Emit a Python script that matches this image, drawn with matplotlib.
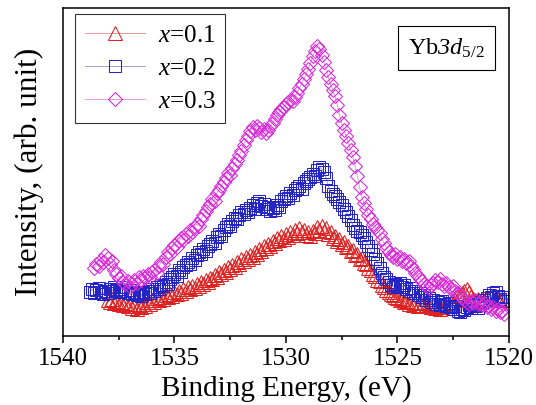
import matplotlib
matplotlib.use('Agg')
import matplotlib.pyplot as plt
from matplotlib.ticker import MultipleLocator

plt.rcParams['font.family'] = ['Liberation Serif', 'DejaVu Serif']
# digits and letters inside $...$ come out italic, \mathsf gives upright serif
plt.rcParams['mathtext.fontset'] = 'custom'
plt.rcParams['mathtext.rm'] = 'Liberation Serif:italic'
plt.rcParams['mathtext.it'] = 'Liberation Serif:italic'
plt.rcParams['mathtext.sf'] = 'Liberation Serif'

# binding energy grid (eV), 0.1 eV steps
energy = [1538.8, 1538.7, 1538.6, 1538.5, 1538.4, 1538.3, 1538.2, 1538.1, 1538.0, 1537.9,
          1537.8, 1537.7, 1537.6, 1537.5, 1537.4, 1537.3, 1537.2, 1537.1, 1537.0, 1536.9,
          1536.8, 1536.7, 1536.6, 1536.5, 1536.4, 1536.3, 1536.2, 1536.1, 1536.0, 1535.9,
          1535.8, 1535.7, 1535.6, 1535.5, 1535.4, 1535.3, 1535.2, 1535.1, 1535.0, 1534.9,
          1534.8, 1534.7, 1534.6, 1534.5, 1534.4, 1534.3, 1534.2, 1534.1, 1534.0, 1533.9,
          1533.8, 1533.7, 1533.6, 1533.5, 1533.4, 1533.3, 1533.2, 1533.1, 1533.0, 1532.9,
          1532.8, 1532.7, 1532.6, 1532.5, 1532.4, 1532.3, 1532.2, 1532.1, 1532.0, 1531.9,
          1531.8, 1531.7, 1531.6, 1531.5, 1531.4, 1531.3, 1531.2, 1531.1, 1531.0, 1530.9,
          1530.8, 1530.7, 1530.6, 1530.5, 1530.4, 1530.3, 1530.2, 1530.1, 1530.0, 1529.9,
          1529.8, 1529.7, 1529.6, 1529.5, 1529.4, 1529.3, 1529.2, 1529.1, 1529.0, 1528.9,
          1528.8, 1528.7, 1528.6, 1528.5, 1528.4, 1528.3, 1528.2, 1528.1, 1528.0, 1527.9,
          1527.8, 1527.7, 1527.6, 1527.5, 1527.4, 1527.3, 1527.2, 1527.1, 1527.0, 1526.9,
          1526.8, 1526.7, 1526.6, 1526.5, 1526.4, 1526.3, 1526.2, 1526.1, 1526.0, 1525.9,
          1525.8, 1525.7, 1525.6, 1525.5, 1525.4, 1525.3, 1525.2, 1525.1, 1525.0, 1524.9,
          1524.8, 1524.7, 1524.6, 1524.5, 1524.4, 1524.3, 1524.2, 1524.1, 1524.0, 1523.9,
          1523.8, 1523.7, 1523.6, 1523.5, 1523.4, 1523.3, 1523.2, 1523.1, 1523.0, 1522.9,
          1522.8, 1522.7, 1522.6, 1522.5, 1522.4, 1522.3, 1522.2, 1522.1, 1522.0, 1521.9,
          1521.8, 1521.7, 1521.6, 1521.5, 1521.4, 1521.3, 1521.2, 1521.1, 1521.0, 1520.9,
          1520.8, 1520.7, 1520.6, 1520.5, 1520.4, 1520.3, 1520.2]

# x = 0.1, scan starts at 1538.0 eV
int_01 = [36, 34, 37, 33, 35, 32, 34, 31, 33, 30,
          32, 28, 30, 27, 31, 29, 32, 30, 34, 32,
          36, 34, 38, 36, 39, 37, 41, 39, 42, 40,
          44, 42, 45, 43, 47, 45, 49, 47, 50, 48,
          52, 50, 54, 52, 56, 54, 58, 57, 61, 59,
          64, 62, 66, 64, 69, 67, 71, 69, 74, 72,
          77, 75, 79, 77, 81, 79, 84, 82, 87, 85,
          90, 88, 92, 90, 95, 93, 98, 96, 100, 97,
          102, 99, 104, 101, 106, 103, 108, 104, 106, 101,
          104, 100, 105, 103, 109, 106, 110, 105, 108, 102,
          104, 98, 100, 95, 97, 92, 94, 89, 90, 85,
          86, 81, 82, 77, 78, 73, 72, 68, 66, 62,
          60, 56, 55, 51, 49, 46, 44, 42, 41, 39,
          38, 36, 37, 34, 35, 32, 34, 31, 33, 30,
          33, 31, 34, 30, 32, 29, 31, 28, 30, 27,
          29, 31, 33, 32, 34, 33, 36, 38, 41, 43,
          45, 47, 44, 40, 37, 35, 37, 34, 36, 35,
          38, 36, 39, 37, 40, 38, 36, 37, 36]

# x = 0.2, scan starts at 1538.8 eV
int_02 = [44, 47, 43, 46, 48, 44, 42, 45, 43, 47,
          45, 49, 46, 44, 47, 49, 45, 43, 46, 42,
          44, 41, 43, 40, 44, 42, 45, 43, 47, 45,
          49, 47, 51, 50, 54, 52, 57, 59, 62, 60,
          66, 64, 69, 71, 74, 72, 78, 76, 81, 84,
          82, 87, 85, 90, 92, 95, 93, 99, 102, 100,
          106, 109, 112, 110, 115, 118, 117, 121, 124, 122,
          126, 124, 128, 131, 127, 133, 135, 130, 132, 127,
          129, 125, 128, 126, 131, 129, 135, 137, 140, 138,
          143, 141, 146, 148, 150, 147, 153, 155, 157, 159,
          162, 160, 166, 169, 167, 164, 158, 150, 145, 142,
          140, 137, 134, 131, 127, 124, 120, 116, 111, 108,
          105, 104, 101, 98, 94, 90, 86, 82, 77, 73,
          68, 63, 59, 57, 54, 51, 49, 52, 50, 53,
          49, 51, 47, 45, 48, 43, 45, 41, 43, 39,
          41, 36, 38, 34, 36, 32, 34, 31, 35, 32,
          30, 33, 29, 27, 30, 25, 24, 27, 26, 29,
          31, 28, 32, 30, 28, 31, 34, 36, 38, 41,
          39, 43, 44, 40, 37, 39, 35]

# x = 0.3, scan starts at 1538.6 eV
int_03 = [68, 72, 70, 76, 74, 81, 78, 72, 75, 66,
          62, 58, 60, 54, 52, 55, 49, 52, 56, 53,
          59, 56, 60, 58, 62, 59, 64, 66, 63, 70,
          74, 72, 79, 84, 82, 88, 91, 89, 95, 98,
          96, 102, 100, 106, 104, 109, 112, 110, 117, 121,
          125, 129, 132, 137, 135, 143, 146, 150, 154, 158,
          163, 161, 168, 172, 176, 181, 185, 191, 196, 200,
          205, 209, 206, 210, 208, 204, 207, 203, 206, 210,
          213, 217, 221, 224, 227, 229, 232, 234, 236, 235,
          239, 243, 248, 252, 257, 262, 267, 273, 280, 285,
          290, 287, 281, 274, 266, 259, 252, 246, 240, 231,
          221, 213, 206, 200, 193, 186, 179, 170, 160, 149,
          139, 133, 127, 121, 117, 112, 109, 106, 103, 97,
          93, 88, 84, 81, 79, 82, 77, 79, 75, 77,
          73, 75, 70, 67, 63, 60, 57, 55, 52, 50,
          48, 51, 53, 56, 54, 57, 52, 50, 53, 49,
          47, 50, 45, 43, 41, 38, 36, 34, 32, 35,
          33, 36, 32, 34, 31, 33, 29, 30, 27, 29,
          25, 27, 24, 25, 22]

series = [
    (8, int_01, r'$x$=0.1', '#dd2222', '#e89a9a', '^', 9.5),
    (0, int_02, r'$x$=0.2', '#2424c4', '#a0a0d8', 's', 8),
    (2, int_03, r'$x$=0.3', '#d62ad6', '#e49ae4', 'D', 7.5),
]

fig = plt.figure(figsize=(5.36, 4.05), dpi=100)
ax = fig.add_axes([0.1175, 0.1704, 0.832, 0.8096])

for start, vals, label, mcol, lcol, mk, ms in series:
    ax.plot(energy[start:start + len(vals)], vals, color=lcol, linewidth=0.7,
            marker=mk, markersize=ms, markerfacecolor='none',
            markeredgecolor=mcol, markeredgewidth=0.75, label=label)

ax.set_xlim(1540, 1520)
ax.set_ylim(0, 328)
ax.set_yticks([])
ax.xaxis.set_major_locator(MultipleLocator(5))
ax.xaxis.set_minor_locator(MultipleLocator(2.5))
ax.tick_params(axis='x', which='major', direction='out', length=5, width=1.1, labelsize=18, pad=4)
ax.tick_params(axis='x', which='minor', direction='out', length=3, width=1.1)
for sp in ax.spines.values():
    sp.set_linewidth(1.1)

ax.set_xlabel('Binding Energy, (eV)', fontsize=21, labelpad=3)
ax.set_ylabel('Intensity, (arb. unit)', fontsize=22.5, labelpad=14)

leg = ax.legend(loc='upper left', bbox_to_anchor=(0.027, 0.982), borderaxespad=0,
                fontsize=18, frameon=True, fancybox=False, edgecolor='black',
                handlelength=2.4, handletextpad=0.5, borderpad=0.4, labelspacing=0.42)
leg.get_frame().set_linewidth(0.8)

ax.text(0.86, 0.878, r'Yb$3d_{\mathsf{5/2}}$', transform=ax.transAxes, fontsize=17.5,
        ha='center', va='center',
        bbox=dict(boxstyle='square,pad=0.42', facecolor='white', edgecolor='black', linewidth=0.8))

fig.savefig('out.png', dpi=100)
